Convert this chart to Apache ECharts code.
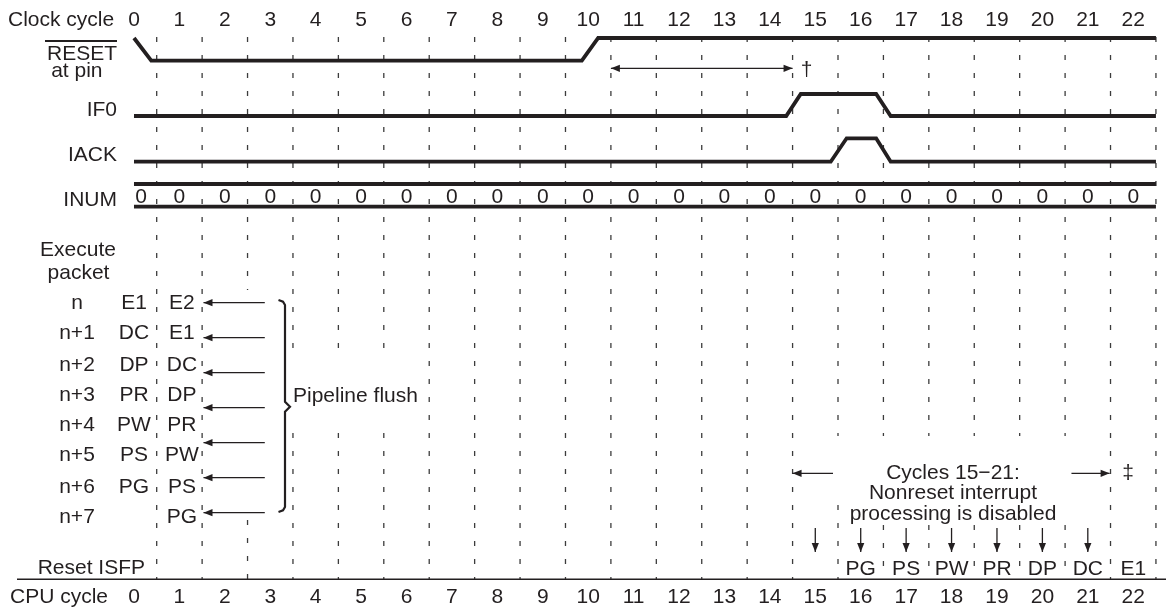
<!DOCTYPE html>
<html><head><meta charset="utf-8">
<script src="https://cdn.jsdelivr.net/npm/echarts@6/dist/echarts.min.js"></script>
<style>html,body{margin:0;padding:0;background:#fff}#c{width:1166px;height:614px}</style>
</head><body><div id="c"></div>
<script>
// ================= DATA =================
const cycleLabels = ['0','1','2','3','4','5','6','7','8','9','10','11','12','13','14','15','16','17','18','19','20','21','22'];
// waveforms: [cycle, level]
const resetWave = [[0,1],[0.38,0],[9.86,0],[10.22,1],[22.5,1]];
const if0Wave   = [[0,0],[14.36,0],[14.68,1],[16.34,1],[16.66,0],[22.5,0]];
const iackWave  = [[0,0],[15.34,0],[15.69,1],[16.34,1],[16.66,0],[22.5,0]];
const inumValues = ['0','0','0','0','0','0','0','0','0','0','0','0','0','0','0','0','0','0','0','0','0','0','0'];
const packetNames = ['n','n+1','n+2','n+3','n+4','n+5','n+6','n+7'];
const stagesCycle0 = ['E1','DC','DP','PR','PW','PS','PG',''];
const stagesCycle1 = ['E2','E1','DC','DP','PR','PW','PS','PG'];
const flushArrowCycles = [2.88, 1.53];       // tail, head
const resetWindow = [10.5, 14.5];            // † interval
const disabledArrowsLeft = [15.39, 14.5];    // tail, head
const disabledArrowsRight = [20.64, 21.48];  // tail, head
const isfpArrowCycles = [15,16,17,18,19,20,21];
const isfpStageCycles = [16,17,18,19,20,21,22];
const isfpStages = ['PG','PS','PW','PR','DP','DC','E1'];
const noteLines = ['Cycles 15\u221221:','Nonreset interrupt','processing is disabled'];

// ================= LAYOUT =================
const PX0 = 156.7, CW = 45.42;                 // pixel of first divider, px per cycle
const v = p => 0.5 + (p - PX0) / CW;           // pixel x -> cycle units (layout only)
const XMIN = v(0), XMAX = v(1166);
const INK = '#231f20', GRID = '#3c3c3c';
const FONT = '"Liberation Sans", Arial, Helvetica, sans-serif';
const FS = 21;
const ROWS = {
  reset:{hi:38, lo:60.7}, if0:{hi:94, lo:116}, iack:{hi:138.3, lo:161.7}, inum:{top:184, bot:206.7}
};
const packetRowY = [303, 333.5, 365, 395.5, 425.5, 455.5, 487, 517];
const flushArrowY = [302.7, 337.7, 372.7, 407.7, 442.7, 477.7, 512.7];
const DIV_TOP = 37, DIV_BOT = 579;
const dividerGaps = {'2.5':[290,520], '3.5':[358,433], '4.5':[358,433], '5.5':[358,433],
  '15.5':[436,505], '16.5':[436,525], '17.5':[436,525], '18.5':[436,525], '19.5':[436,525], '20.5':[436,525]};
const dividers = cycleLabels.map((c) => Number(c) + 0.5);

// ================= BUILD =================
const texts = [];
function T(x, y, text, align, extra){ texts.push(Object.assign({x, y, text, align: align||'center'}, extra||{})); }
cycleLabels.forEach((c,i)=>{ T(i, 20, c); T(i, 597.5, c); });
T(v(8), 20, 'Clock cycle', 'left');
T(v(117), 54, 'RESET', 'right');
T(v(102.5), 71, 'at pin', 'right');
T(v(117), 110, 'IF0', 'right');
T(v(117), 155.5, 'IACK', 'right');
T(v(117), 200, 'INUM', 'right');
T(v(78), 250, 'Execute');
T(v(78.5), 273, 'packet');
packetNames.forEach((n,i)=>T(v(77), packetRowY[i], n));
stagesCycle0.forEach((s,i)=>{ if(s) T(0, packetRowY[i], s); });
stagesCycle1.forEach((s,i)=>T(1 + 2.5/CW, packetRowY[i], s));
T(v(293), 396, 'Pipeline flush', 'left');
T(v(806.7), 70, '\u2020');
noteLines.forEach((s,i)=>T(v(953), [473, 493, 514][i], s));
T(v(1128), 473, '\u2021');
isfpStages.forEach((s,i)=>T(isfpStageCycles[i], 569, s));
T(v(145), 568, 'Reset ISFP', 'right');
T(v(10), 597.5, 'CPU cycle', 'left');
inumValues.forEach((s,i)=>T(i + (i===0 ? 7/CW : 0), 197, s));

const arrows = [];
flushArrowY.forEach(y=>arrows.push({x1:flushArrowCycles[0], y1:y, x2:flushArrowCycles[1], y2:y}));
arrows.push({x1:resetWindow[0], y1:68.3, x2:resetWindow[1], y2:68.3, both:true});
arrows.push({x1:disabledArrowsLeft[0], y1:473.3, x2:disabledArrowsLeft[1], y2:473.3});
arrows.push({x1:disabledArrowsRight[0], y1:473.3, x2:disabledArrowsRight[1], y2:473.3});
isfpArrowCycles.forEach(c=>arrows.push({x1:c, y1:528, x2:c, y2:552}));

function head(p, q){ // arrowhead at q, coming from p
  const dx=q[0]-p[0], dy=q[1]-p[1], L=Math.hypot(dx,dy)||1, ux=dx/L, uy=dy/L;
  const len=9, hw=3.6;
  return {type:'polygon', shape:{points:[[q[0],q[1]],[q[0]-ux*len-uy*hw, q[1]-uy*len+ux*hw],[q[0]-ux*len+uy*hw, q[1]-uy*len-ux*hw]]}, style:{fill:INK}};
}

const waveSeries = (wave, row) => ({
  type:'line', data: wave.map(([x,l])=>[x, l ? row.hi : row.lo]), symbol:'none', silent:true, animation:false,
  lineStyle:{width:3.8, color:INK, join:'miter', cap:'butt'}, z:5
});

const option = {
  animation:false,
  grid:{left:0,right:0,top:0,bottom:0},
  xAxis:{type:'value', min:XMIN, max:XMAX, show:false},
  yAxis:{type:'value', min:0, max:614, inverse:true, show:false},
  series:[
    { type:'custom', silent:true, clip:false, z:1,
      data: dividers.map(d=>[d, DIV_TOP]),
      renderItem:(params, api)=>{
        const x = dividers[params.dataIndex];
        const g = dividerGaps[String(x)];
        const segs = g ? [[DIV_TOP,g[0]],[g[1],DIV_BOT]] : [[DIV_TOP,DIV_BOT]];
        return {type:'group', children: segs.map(([a,b])=>{
          const p1=api.coord([x,a]), p2=api.coord([x,b]);
          return {type:'line', shape:{x1:p1[0],y1:p1[1],x2:p2[0],y2:p2[1]}, style:{stroke:GRID, lineWidth:1.3, lineDash:[5,13]}};
        })};
      }
    },
    waveSeries(resetWave, ROWS.reset),
    waveSeries(if0Wave, ROWS.if0),
    waveSeries(iackWave, ROWS.iack),
    { type:'line', data:[[0,ROWS.inum.top],[cycleLabels.length-0.5,ROWS.inum.top]], symbol:'none', silent:true, lineStyle:{width:3.8,color:INK}, z:5 },
    { type:'line', data:[[0,ROWS.inum.bot],[cycleLabels.length-0.5,ROWS.inum.bot]], symbol:'none', silent:true, lineStyle:{width:3.8,color:INK}, z:5 },
    // baseline above CPU cycle row
    { type:'line', data:[[v(17),579.3],[XMAX,579.3]], symbol:'none', silent:true, lineStyle:{width:1.6,color:INK}, z:5 },
    // arrows
    { type:'custom', silent:true, clip:false, z:6,
      data: arrows.map(a=>[a.x1,a.y1]),
      renderItem:(params, api)=>{
        const a = arrows[params.dataIndex];
        const p=api.coord([a.x1,a.y1]), q=api.coord([a.x2,a.y2]);
        const ch=[{type:'line', shape:{x1:p[0],y1:p[1],x2:q[0],y2:q[1]}, style:{stroke:INK, lineWidth:1.3}}, head(p,q)];
        if(a.both) ch.push(head(q,p));
        return {type:'group', children:ch};
      }
    },
    // brace
    { type:'custom', silent:true, clip:false, z:6,
      data:[[v(285), flushArrowY[0]]],
      renderItem:(params, api)=>{
        const top=api.coord([v(285),300]), bot=api.coord([v(285),512]), mid=api.coord([v(285),406.7]);
        const x=top[0];
        const pts=[[x-6.5,top[1]],[x-2,top[1]+1.6],[x,top[1]+5],[x,mid[1]-5],[x+5,mid[1]],[x,mid[1]+5],[x,bot[1]-5],[x-2,bot[1]-1.6],[x-6.5,bot[1]]];
        return {type:'polyline', shape:{points:pts}, style:{stroke:INK, lineWidth:2.2, fill:null, lineJoin:'miter'}};
      }
    },
    // RESET overline
    { type:'custom', silent:true, clip:false, z:6,
      data:[[v(45),41]],
      renderItem:(params, api)=>{
        const a=api.coord([v(45),41]), b=api.coord([v(117),41]);
        return {type:'line', shape:{x1:a[0],y1:a[1],x2:b[0],y2:b[1]}, style:{stroke:INK, lineWidth:2.2}};
      }
    },
    // texts
    { type:'custom', silent:true, clip:false, z:10,
      data: texts.map(t=>[t.x,t.y]),
      renderItem:(params, api)=>{
        const t=texts[params.dataIndex];
        const p=api.coord([t.x,t.y]);
        return {type:'text', x:p[0], y:p[1], style:{text:t.text, fill:INK, fontSize:FS, fontFamily:FONT, align:t.align, verticalAlign:'middle'}};
      }
    }
  ]
};
const chart = echarts.init(document.getElementById('c'), null, {renderer:'canvas'});
chart.setOption(option);
</script>
</body></html>
